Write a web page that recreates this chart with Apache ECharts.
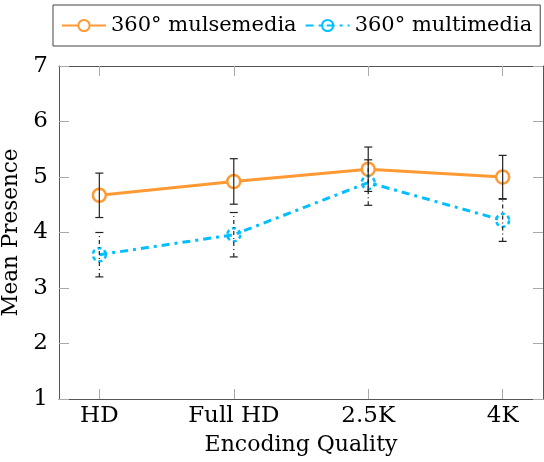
<!DOCTYPE html>
<html><head><meta charset="utf-8">
<script src="https://cdn.jsdelivr.net/npm/echarts@6/dist/echarts.min.js"></script>
<style>html,body{margin:0;padding:0;background:#fff}#c{width:544px;height:462px}</style>
</head><body><div id="c"></div>
<script>
const categories = ['HD', 'Full HD', '2.5K', '4K'];
const mulseMean = [4.67, 4.92, 5.14, 5.00];
const mulseErr = [0.40, 0.41, 0.40, 0.39];
const multiMean = [3.60, 3.96, 4.90, 4.22];
const multiErr = [0.40, 0.40, 0.41, 0.38];
const yTicks = [1, 2, 3, 4, 5, 6, 7];

const FONT = 'DejaVu Serif';
const ORANGE = '#ff9933';
const BLUE = '#00bfff';

function errData(means, errs) {
  return means.map((m, i) => [i, m - errs[i], m + errs[i]]);
}
function errRender(dashed) {
  return function (params, api) {
    const x = api.value(0);
    const lo = api.coord([x, api.value(1)]);
    const hi = api.coord([x, api.value(2)]);
    const style = { stroke: '#222', lineWidth: 1.2, lineDash: dashed ? [4, 3, 1, 3] : null };
    const cap = 4;
    return {
      type: 'group',
      children: [
        { type: 'line', shape: { x1: lo[0], y1: lo[1], x2: hi[0], y2: hi[1] }, style },
        { type: 'line', shape: { x1: lo[0] - cap, y1: lo[1], x2: lo[0] + cap, y2: lo[1] }, style: { stroke: '#222', lineWidth: 1.2 } },
        { type: 'line', shape: { x1: hi[0] - cap, y1: hi[1], x2: hi[0] + cap, y2: hi[1] }, style: { stroke: '#222', lineWidth: 1.2 } }
      ]
    };
  };
}

const chart = echarts.init(document.getElementById('c'));
const tickVals = categories.map((c, i) => i);
const axisLineStyle = { show: true, onZero: false, lineStyle: { color: '#555', width: 1 } };
chart.setOption({
  animation: false,
  textStyle: { fontFamily: FONT, color: '#000' },
  grid: { left: 59, right: 1, top: 66, bottom: 63, containLabel: false, outerBoundsMode: 'none' },
  legend: {
    data: ['360° mulsemedia', '360° multimedia'],
    left: 53, top: 5,
    padding: [10, 8, 10, 8],
    borderColor: '#444', borderWidth: 1,
    itemWidth: 44, itemHeight: 14, itemGap: 8,
    textStyle: { fontFamily: FONT, fontSize: 21, color: '#000' }
  },
  xAxis: [{
    type: 'value', min: -0.3, max: 3.3,
    name: 'Encoding Quality', nameLocation: 'middle', nameGap: 35,
    nameTextStyle: { fontFamily: FONT, fontSize: 22, color: '#000' },
    axisLine: axisLineStyle,
    axisTick: { show: true, inside: true, length: 10, lineStyle: { color: '#aaa' }, customValues: tickVals },
    axisLabel: { fontFamily: FONT, fontSize: 23, color: '#000', margin: 6, customValues: tickVals, formatter: v => categories[Math.round(v)] },
    splitLine: { show: false }
  }, {
    type: 'value', min: -0.3, max: 3.3, position: 'top',
    axisLine: axisLineStyle,
    axisTick: { show: true, inside: true, length: 10, lineStyle: { color: '#aaa' }, customValues: tickVals },
    axisLabel: { show: false },
    splitLine: { show: false }
  }],
  yAxis: [{
    type: 'value', min: 1, max: 7, interval: 1,
    name: 'Mean Presence', nameLocation: 'middle', nameGap: 26,
    nameTextStyle: { fontFamily: FONT, fontSize: 21.5, color: '#000' },
    axisLine: axisLineStyle,
    axisTick: { show: true, inside: true, length: 10, lineStyle: { color: '#aaa' } },
    axisLabel: { fontFamily: FONT, fontSize: 23, color: '#000', margin: 11, formatter: v => yTicks.includes(v) ? String(v) : '' },
    splitLine: { show: false }
  }, {
    type: 'value', min: 1, max: 7, interval: 1, position: 'right',
    axisLine: axisLineStyle,
    axisTick: { show: true, inside: true, length: 10, lineStyle: { color: '#aaa' } },
    axisLabel: { show: false },
    splitLine: { show: false }
  }],
  series: [{
    name: '360° mulsemedia', type: 'line',
    data: mulseMean.map((v, i) => [i, v]),
    symbol: 'circle', symbolSize: 13,
    lineStyle: { color: ORANGE, width: 3 },
    itemStyle: { color: '#fff', borderColor: ORANGE, borderWidth: 2.5 },
    z: 3
  }, {
    name: '360° multimedia', type: 'line',
    data: multiMean.map((v, i) => [i, v]),
    symbol: 'circle', symbolSize: 13,
    lineStyle: { color: BLUE, width: 3, type: [8, 5, 3, 5] },
    itemStyle: { color: 'rgba(255,255,255,0)', borderColor: BLUE, borderWidth: 2.5, borderType: [4, 3] },
    z: 3
  }, {
    name: 'errMulse', type: 'custom',
    data: errData(mulseMean, mulseErr),
    renderItem: errRender(false),
    encode: { x: 0, y: [1, 2] },
    z: 5
  }, {
    name: 'errMulti', type: 'custom',
    data: errData(multiMean, multiErr),
    renderItem: errRender(true),
    encode: { x: 0, y: [1, 2] },
    z: 5
  }]
});
</script></body></html>
